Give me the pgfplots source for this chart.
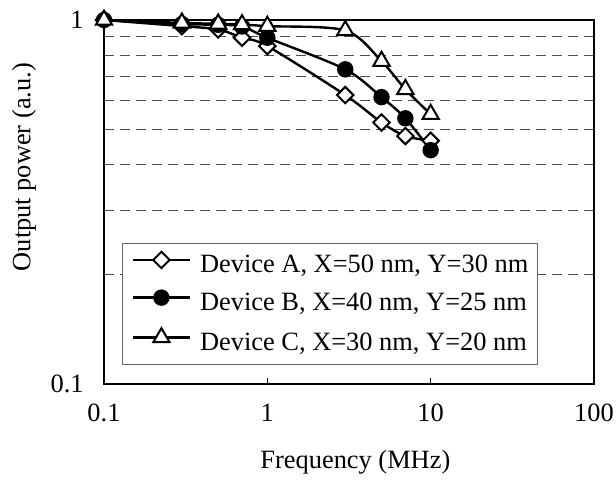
\documentclass[border=0pt]{standalone}
\usepackage{fontspec}
\setmainfont{Liberation Serif}
\usepackage{pgfplots}
\pgfplotsset{compat=1.18}

\newcommand{\chartfont}{\fontsize{13.2}{15.8}\selectfont}

\begin{document}
\begin{tikzpicture}
  \begin{axis}[
      scale only axis,
      width=245pt, height=182pt,
      xmode=log, ymode=log,
      xmin=0.1, xmax=100, ymin=0.1, ymax=1,
      log ticks with fixed point,
      /pgf/number format/assume math mode=true,
      xtick={0.1,1,10,100}, ytick={0.1,1},
      xminorticks=false,
      minor ytick={0.2,0.3,0.4,0.5,0.6,0.7,0.8,0.9},
      yminorgrids=true,
      minor grid style={black!70, line width=0.55pt, dash pattern=on 5pt off 3pt},
      minor tick length=0pt,
      major tick length=3pt,
      tick align=inside,
      xtick pos=bottom, ytick pos=left,
      axis line style={black, line width=0.75pt},
      tick style={black, line width=0.6pt},
      tick label style={font=\chartfont},
      xticklabel style={anchor=north, inner sep=0pt, yshift=-9.7pt},
      yticklabel style={anchor=east, inner sep=0pt, xshift=-10pt},
      xlabel={Frequency (MHz)},
      ylabel={Output power (a.u.)},
      label style={font=\chartfont},
      xlabel style={at={(axis description cs:0.513,-0.214)}, anchor=center},
      ylabel style={at={(axis description cs:-0.163,0.596)}, anchor=center},
      clip=false,
      legend cell align=left,
      legend style={at={(0.0367,0.3874)}, anchor=north west,
        draw=black!60, line width=0.75pt, fill=white,
        inner xsep=4.5pt, inner ysep=4pt, row sep=5.75pt, column sep=4.5pt,
        font=\chartfont,
        nodes={inner sep=0pt, text height=9pt, text depth=3pt}},
      legend image code/.code={%
        \draw[mark repeat=2, mark phase=2]
          plot coordinates {(0pt,3.5pt) (14.25pt,3.5pt) (28.5pt,3.5pt)};},
    ]

    \coordinate (sw) at (rel axis cs:0,0);
    \coordinate (ne) at (rel axis cs:1,1);

    % Device A
    \addplot[black, line width=1.2pt, smooth, tension=0.5,
      mark=square*, mark size=2.9pt,
      mark options={solid, fill=white, draw=black, line width=1pt, rotate=45}]
      coordinates {(0.1,1) (0.3,0.962) (0.5,0.942) (0.7,0.894) (1,0.848)
                   (3,0.622) (5,0.523) (7,0.48) (10,0.466)};
    \addlegendentry{Device A, X=50 nm, Y=30 nm}

    % Device B
    \addplot[black, line width=1.2pt, smooth, tension=0.5,
      mark=*, mark size=3.6pt,
      mark options={solid, fill=black, draw=black, line width=1pt}]
      coordinates {(0.1,1) (0.3,0.975) (0.5,0.97) (0.7,0.96) (1,0.894)
                   (3,0.732) (5,0.614) (7,0.537) (10,0.439)};
    \addlegendentry{Device B, X=40 nm, Y=25 nm}

    % Device C
    \addplot[black, line width=1.2pt, smooth, tension=0.5,
      mark=triangle*, mark size=4.7pt,
      mark options={solid, fill=white, draw=black, line width=1pt}]
      coordinates {(0.1,1) (0.3,0.982) (0.5,0.976) (0.7,0.972) (1,0.962)
                   (3,0.936) (5,0.771) (7,0.645) (10,0.551)};
    \addlegendentry{Device C, X=30 nm, Y=20 nm}
  \end{axis}
  \pgfresetboundingbox
  \path ([shift={(-52pt,-50pt)}]sw) rectangle ([shift={(11pt,10pt)}]ne);
\end{tikzpicture}
\end{document}
